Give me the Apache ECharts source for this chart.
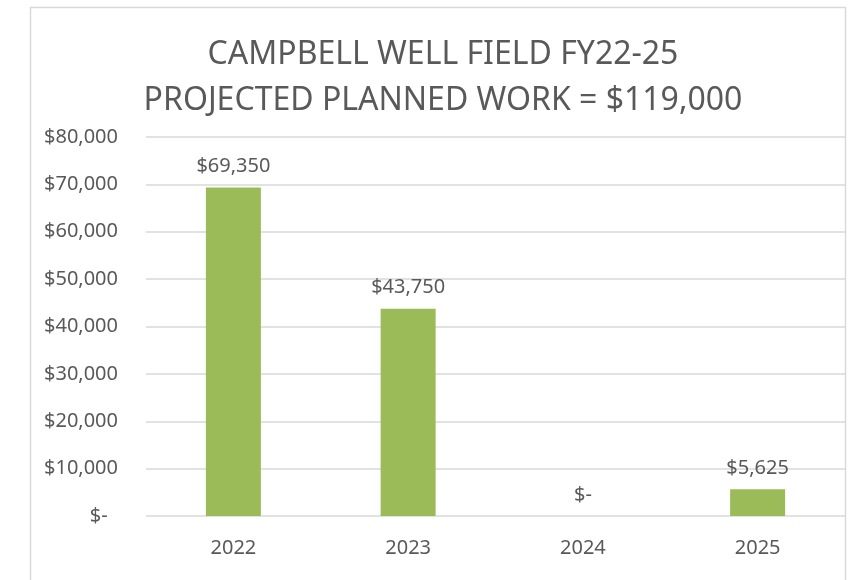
<!DOCTYPE html>
<html>
<head>
<meta charset="utf-8">
<script src="https://cdn.jsdelivr.net/npm/echarts@6/dist/echarts.min.js"></script>
<style>
  html, body { margin: 0; padding: 0; background: #fff; }
  #chart { width: 850px; height: 580px; }
</style>
</head>
<body>
<div id="chart"></div>
<script>
// chart data
const years = ["2022", "2023", "2024", "2025"];
const plannedWork = [69350, 43750, 0, 5625];
const yTicks = [0, 10000, 20000, 30000, 40000, 50000, 60000, 70000, 80000];

const textColor = "#595959";
const font = "Noto Sans";

function money(v) {
  if (v === 0) return "$-";
  return "$" + v.toLocaleString("en-US");
}

const chart = echarts.init(document.getElementById("chart"), null, { renderer: "canvas" });

chart.setOption({
  animation: false,
  textStyle: { fontFamily: font },
  // frame around the chart area
  graphic: [
    {
      type: "rect",
      shape: { x: 30.5, y: 7.5, width: 815, height: 600 },
      style: { fill: "none", stroke: "#d9d9d9", lineWidth: 1.5 },
      silent: true
    }
  ],
  title: {
    text: "CAMPBELL WELL FIELD FY22-25\nPROJECTED PLANNED WORK = $119,000",
    left: 438,
    textAlign: "center",
    top: 27,
    textStyle: {
      color: textColor,
      fontFamily: font,
      fontSize: 32,
      fontWeight: "normal",
      lineHeight: 46
    }
  },
  grid: { left: 146, right: 5, top: 137, bottom: 64 },
  xAxis: {
    type: "category",
    data: years,
    axisLine: { show: false },
    axisTick: { show: false },
    axisLabel: { color: textColor, fontSize: 20, margin: 22, fontFamily: font }
  },
  yAxis: {
    type: "value",
    min: yTicks[0],
    max: yTicks[yTicks.length - 1],
    interval: yTicks[1] - yTicks[0],
    axisLine: { show: false },
    axisTick: { show: false },
    splitLine: { lineStyle: { color: "#d9d9d9", width: 1.5 } },
    axisLabel: {
      color: textColor,
      fontSize: 20,
      margin: 28,
      fontFamily: font,
      // accounting style: the zero label sits a bit left
      formatter: function (v) { return v === 0 ? "$-  " : money(v); }
    }
  },
  series: [
    {
      type: "bar",
      data: plannedWork,
      barWidth: 55,
      itemStyle: { color: "#9bbb59" },
      label: {
        show: true,
        position: "top",
        distance: 11,
        color: textColor,
        fontSize: 20,
        fontFamily: font,
        formatter: function (p) { return money(p.value); }
      }
    }
  ]
});
</script>
</body>
</html>
